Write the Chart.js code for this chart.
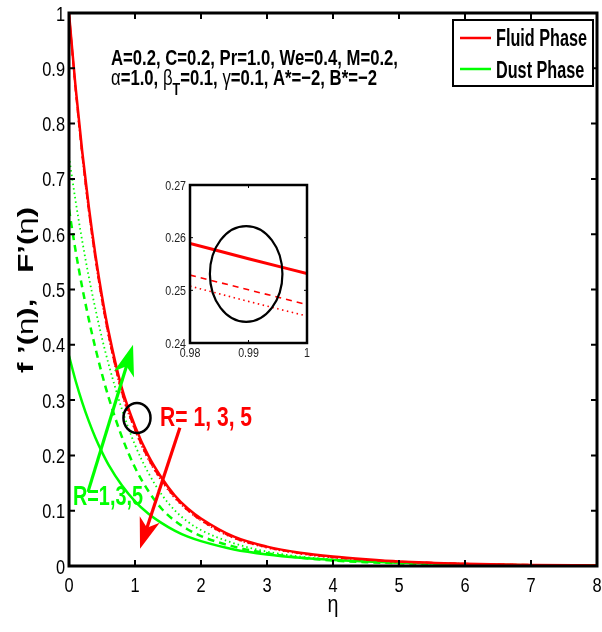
<!DOCTYPE html>
<html>
<head>
<meta charset="utf-8">
<script src="https://cdn.jsdelivr.net/npm/chart.js@4.4.1/dist/chart.umd.min.js"></script>
<style>
html, body { margin: 0; padding: 0; background: #fff; }
#wrap { position: relative; width: 602px; height: 632px; }
#main { position: absolute; left: 0; top: 0; }
#zoom { position: absolute; left: 150px; top: 172px; }
</style>
</head>
<body>
<div id="wrap">
  <canvas id="main" width="602" height="632"></canvas>
  <canvas id="zoom" width="170" height="195"></canvas>
</div>
<script>
// velocity profiles f'(eta) (fluid) and F'(eta) (dust) for R = 1, 3, 5
var eta      = [0, 0.1, 0.2, 0.3, 0.4, 0.5, 0.6, 0.8, 1, 1.2, 1.4, 1.6, 1.8, 2, 2.5, 3, 3.5, 4, 4.5, 5, 6, 7, 8];
var fluidR1  = [1.000, 0.866, 0.750, 0.650, 0.563, 0.488, 0.424, 0.322, 0.253, 0.200, 0.160, 0.128, 0.104, 0.086, 0.053, 0.035, 0.024, 0.017, 0.012, 0.008, 0.004, 0.002, 0.001];
var fluidR3  = [1.000, 0.862, 0.744, 0.643, 0.556, 0.481, 0.417, 0.315, 0.247, 0.195, 0.156, 0.125, 0.101, 0.083, 0.051, 0.034, 0.023, 0.016, 0.011, 0.008, 0.004, 0.002, 0.001];
var fluidR5  = [1.000, 0.860, 0.742, 0.640, 0.553, 0.478, 0.414, 0.312, 0.245, 0.193, 0.154, 0.123, 0.100, 0.082, 0.050, 0.033, 0.022, 0.015, 0.011, 0.007, 0.004, 0.002, 0.001];
var dustR1   = [0.380, 0.335, 0.296, 0.262, 0.232, 0.206, 0.183, 0.146, 0.117, 0.095, 0.078, 0.064, 0.053, 0.045, 0.030, 0.021, 0.015, 0.011, 0.008, 0.006, 0.003, 0.0015, 0.0008];
var dustR3   = [0.645, 0.570, 0.504, 0.446, 0.394, 0.347, 0.305, 0.234, 0.178, 0.136, 0.104, 0.082, 0.066, 0.054, 0.035, 0.023, 0.015, 0.010, 0.007, 0.005, 0.002, 0.001, 0.0005];
var dustR5   = [0.740, 0.660, 0.588, 0.523, 0.465, 0.412, 0.365, 0.284, 0.219, 0.169, 0.130, 0.101, 0.080, 0.065, 0.041, 0.026, 0.017, 0.012, 0.008, 0.006, 0.003, 0.0015, 0.0008];

// zoomed window around eta = 0.99
var zoomEta     = [0.98, 0.99, 1.0];
var zoomFluidR1 = [0.2589, 0.2560, 0.2532];
var zoomFluidR3 = [0.2529, 0.2501, 0.2473];
var zoomFluidR5 = [0.2508, 0.2479, 0.2451];

var etaTicks   = [0, 1, 2, 3, 4, 5, 6, 7, 8];
var velTicks   = [0, 0.1, 0.2, 0.3, 0.4, 0.5, 0.6, 0.7, 0.8, 0.9, 1];
var zoomXTicks = [0.98, 0.99, 1];
var zoomYTicks = [0.24, 0.25, 0.26, 0.27];

var RED = 'rgb(255,0,0)';
var GREEN = 'rgb(0,255,0)';
var SANS = '"Liberation Sans", Arial, sans-serif';
var NARROW_X = 0.82;   // horizontal squeeze to get a narrow face

function pts(xs, ys) {
    return xs.map(function (x, i) { return { x: x, y: ys[i] }; });
}

function line(label, xs, ys, color, dash, width) {
    return {
        label: label, data: pts(xs, ys), borderColor: color, borderWidth: width,
        borderDash: dash, pointRadius: 0, fill: false, cubicInterpolationMode: 'monotone'
    };
}

function fixTicks(list) {
    return function (scale) { scale.ticks = list.map(function (v) { return { value: v }; }); };
}

var B = function (s) { return 'bold ' + s + 'px ' + SANS; };
var N = function (s) { return s + 'px ' + SANS; };

function runsWidth(ctx, runs) {
    var w = 0;
    runs.forEach(function (r) { ctx.font = r[1]; w += ctx.measureText(r[0]).width; });
    return w;
}

// text made of runs with different fonts; (x, y) = left baseline
function drawRuns(ctx, runs, x, y, color, sx, sy) {
    ctx.save();
    ctx.translate(x, y);
    ctx.scale(sx || 1, sy || 1);
    ctx.fillStyle = color;
    ctx.textBaseline = 'alphabetic';
    ctx.textAlign = 'left';
    var cx = 0;
    runs.forEach(function (r) {
        ctx.font = r[1];
        ctx.fillText(r[0], cx, r[2] || 0);
        cx += ctx.measureText(r[0]).width;
    });
    ctx.restore();
}

function drawArrow(ctx, x0, y0, x1, y1, color) {
    var a = Math.atan2(y1 - y0, x1 - x0);
    var dx = Math.cos(a), dy = Math.sin(a);
    var L = 31, W = 10.5;
    ctx.save();
    ctx.strokeStyle = color;
    ctx.fillStyle = color;
    ctx.lineWidth = 3.2;
    ctx.beginPath();
    ctx.moveTo(x0, y0);
    ctx.lineTo(x1 - dx * L * 0.7, y1 - dy * L * 0.7);
    ctx.stroke();
    ctx.beginPath();
    ctx.moveTo(x1, y1);
    ctx.lineTo(x1 - dx * L - dy * W, y1 - dy * L + dx * W);
    ctx.lineTo(x1 - dx * L * 0.72, y1 - dy * L * 0.72);
    ctx.lineTo(x1 - dx * L + dy * W, y1 - dy * L - dx * W);
    ctx.closePath();
    ctx.fill();
    ctx.restore();
}

function drawEllipse(ctx, xs, ys, c, width) {
    var cx = xs.getPixelForValue(c.x), cy = ys.getPixelForValue(c.y);
    var rx = xs.getPixelForValue(c.x + c.rx) - cx;
    var ry = cy - ys.getPixelForValue(c.y + c.ry);
    ctx.save();
    ctx.strokeStyle = '#000';
    ctx.lineWidth = width;
    ctx.beginPath();
    ctx.ellipse(cx, cy, rx, ry, 0, 0, Math.PI * 2);
    ctx.stroke();
    ctx.restore();
}

function drawFrame(ctx, area, xs, ys, xt, yt, tickLen, frameW, tickW) {
    ctx.save();
    ctx.strokeStyle = '#000';
    ctx.lineWidth = tickW;
    ctx.beginPath();
    xt.forEach(function (v) {
        var px = xs.getPixelForValue(v);
        ctx.moveTo(px, area.bottom); ctx.lineTo(px, area.bottom - tickLen);
        ctx.moveTo(px, area.top); ctx.lineTo(px, area.top + tickLen);
    });
    yt.forEach(function (v) {
        var py = ys.getPixelForValue(v);
        ctx.moveTo(area.left, py); ctx.lineTo(area.left + tickLen, py);
        ctx.moveTo(area.right, py); ctx.lineTo(area.right - tickLen, py);
    });
    ctx.stroke();
    ctx.lineWidth = frameW;
    ctx.strokeRect(area.left, area.top, area.right - area.left, area.bottom - area.top);
    ctx.restore();
}

// tick labels drawn with the narrow squeeze
function drawTickLabels(ctx, area, xs, ys, xt, yt, size, fmtX, fmtY, color, gapX, gapY, sy) {
    ctx.save();
    ctx.font = N(size);
    xt.forEach(function (v) {
        var t = fmtX(v);
        var w = ctx.measureText(t).width * NARROW_X;
        drawRuns(ctx, [[t, N(size)]], xs.getPixelForValue(v) - w / 2, area.bottom + gapX, color, NARROW_X, sy);
    });
    yt.forEach(function (v) {
        var t = fmtY(v);
        var w = ctx.measureText(t).width * NARROW_X;
        drawRuns(ctx, [[t, N(size)]], area.left - gapY - w, ys.getPixelForValue(v) + size * 0.36 * sy, color, NARROW_X, sy);
    });
    ctx.restore();
}

// annotation anchors in data units (eta, velocity)
var bigCircle    = { x: 1.03, y: 0.2676, rx: 0.205, ry: 0.027 };
var greenArrow   = { from: [0.288, 0.134], to: [0.97, 0.400] };
var redArrow     = { from: [1.68, 0.250], to: [1.076, 0.031] };
var redLabelAt   = [1.38, 0.253];
var greenLabelAt = [0.06, 0.110];
var zoomCircle   = { x: 0.9896, y: 0.2531, rx: 0.0062, ry: 0.0091 };

var decor = {
    id: 'decor',
    afterDraw: function (chart) {
        var ctx = chart.ctx, a = chart.chartArea;
        var xs = chart.scales.x, ys = chart.scales.y;
        drawFrame(ctx, a, xs, ys, etaTicks.slice(1, -1), velTicks.slice(1, -1), 6, 3, 2);
        drawTickLabels(ctx, a, xs, ys, etaTicks, velTicks, 20,
            function (v) { return String(v); },
            function (v) { return String(+v.toFixed(1)); }, '#000', 26, 4, 1.05);

        // parameter block
        var line1 = [['A=0.2, C=0.2, Pr=1.0, We=0.4, M=0.2,', B(20)]];
        var sxP = 287 / runsWidth(ctx, line1);
        drawRuns(ctx, line1, 111, 65, '#000', sxP, 1.1);
        drawRuns(ctx, [
            ['\u03b1', N(20)], ['=1.0, ', B(20)], ['\u03b2', N(20)], ['T', B(15), 9],
            ['=0.1, ', B(20)], ['\u03b3', N(20)], ['=0.1, A*=\u22122, B*=\u22122', B(20)]
        ], 111, 85, '#000', sxP, 1.1);

        // legend
        ctx.save();
        ctx.fillStyle = '#fff';
        ctx.fillRect(453, 20, 140, 66);
        ctx.strokeStyle = '#000';
        ctx.lineWidth = 2;
        ctx.strokeRect(453, 20, 140, 66);
        ctx.lineWidth = 2.5;
        ctx.strokeStyle = RED;
        ctx.beginPath(); ctx.moveTo(460, 38); ctx.lineTo(491, 38); ctx.stroke();
        ctx.strokeStyle = GREEN;
        ctx.beginPath(); ctx.moveTo(460, 69); ctx.lineTo(491, 69); ctx.stroke();
        ctx.restore();
        var fluidTxt = [['Fluid Phase', B(20)]];
        var sxL = 91 / runsWidth(ctx, fluidTxt);
        drawRuns(ctx, fluidTxt, 496, 46, '#000', sxL, 1.15);
        drawRuns(ctx, [['Dust Phase', B(20)]], 496, 78, '#000', sxL, 1.15);

        // markers for the R trend
        drawEllipse(ctx, xs, ys, bigCircle, 2.5);
        drawArrow(ctx, xs.getPixelForValue(greenArrow.from[0]), ys.getPixelForValue(greenArrow.from[1]),
                  xs.getPixelForValue(greenArrow.to[0]), ys.getPixelForValue(greenArrow.to[1]), GREEN);
        drawArrow(ctx, xs.getPixelForValue(redArrow.from[0]), ys.getPixelForValue(redArrow.from[1]),
                  xs.getPixelForValue(redArrow.to[0]), ys.getPixelForValue(redArrow.to[1]), RED);
        var redTxt = [['R= 1, 3, 5', B(26)]];
        drawRuns(ctx, redTxt, xs.getPixelForValue(redLabelAt[0]), ys.getPixelForValue(redLabelAt[1]), RED,
                 92 / runsWidth(ctx, redTxt), 1.05);
        var greenTxt = [['R=1,3,5', B(26)]];
        drawRuns(ctx, greenTxt, xs.getPixelForValue(greenLabelAt[0]), ys.getPixelForValue(greenLabelAt[1]), GREEN,
                 70 / runsWidth(ctx, greenTxt), 1.05);

        // axis titles
        var etaTxt = [['\u03b7', N(24)]];
        var ew = runsWidth(ctx, etaTxt) * NARROW_X;
        drawRuns(ctx, etaTxt, (a.left + a.right) / 2 - ew / 2, 612, '#000', NARROW_X, 1);

        var yTitle = [
            ['f \u2019(', B(22)], ['\u03b7', N(22)], ['),', B(22)], ['   ', B(22)],
            ['F\u2019(', B(22)], ['\u03b7', N(22)], [')', B(22)]
        ];
        var sxY = 166 / runsWidth(ctx, yTitle);
        ctx.save();
        ctx.translate(33, 290);
        ctx.rotate(-Math.PI / 2);
        drawRuns(ctx, yTitle, -83, 0, '#000', sxY, 1);
        ctx.restore();
    }
};

new Chart(document.getElementById('main'), {
    type: 'line',
    data: {
        datasets: [
            line('Fluid Phase', eta, fluidR1, RED, [], 2.5),
            line('Fluid R=3', eta, fluidR3, RED, [7, 5], 2),
            line('Fluid R=5', eta, fluidR5, RED, [1.5, 3], 1.6),
            line('Dust Phase', eta, dustR1, GREEN, [], 2.5),
            line('Dust R=3', eta, dustR3, GREEN, [7, 5], 2.5),
            line('Dust R=5', eta, dustR5, GREEN, [1.5, 3], 1.8)
        ]
    },
    options: {
        responsive: false,
        animation: false,
        layout: { padding: { left: 0, right: 5, top: 13, bottom: 0 } },
        scales: {
            x: {
                type: 'linear', min: 0, max: 8,
                afterBuildTicks: fixTicks(etaTicks),
                afterFit: function (s) { s.height = 66; },
                grid: { display: false, drawTicks: false },
                border: { display: false },
                ticks: { display: false }
            },
            y: {
                type: 'linear', min: 0, max: 1,
                afterBuildTicks: fixTicks(velTicks),
                afterFit: function (s) { s.width = 69; },
                grid: { display: false, drawTicks: false },
                border: { display: false },
                ticks: { display: false }
            }
        },
        plugins: { legend: { display: false }, tooltip: { enabled: false } }
    },
    plugins: [decor]
});

// zoom window
var zoomDecor = {
    id: 'zoomDecor',
    beforeDatasetsDraw: function (chart) {
        var a = chart.chartArea;
        chart.ctx.save();
        chart.ctx.fillStyle = '#fff';
        chart.ctx.fillRect(a.left, a.top, a.right - a.left, a.bottom - a.top);
        chart.ctx.restore();
    },
    afterDraw: function (chart) {
        var ctx = chart.ctx, a = chart.chartArea;
        var xs = chart.scales.x, ys = chart.scales.y;
        drawFrame(ctx, a, xs, ys, [0.99], [0.25, 0.26], 3, 2.5, 1);
        drawTickLabels(ctx, a, xs, ys, zoomXTicks, zoomYTicks, 13,
            function (v) { return String(+v.toFixed(2)); },
            function (v) { return String(+v.toFixed(2)); }, '#222', 14, 4, 1);
        drawEllipse(ctx, xs, ys, zoomCircle, 2.2);
    }
};

new Chart(document.getElementById('zoom'), {
    type: 'line',
    data: {
        datasets: [
            line('R=1', zoomEta, zoomFluidR1, RED, [], 3),
            line('R=3', zoomEta, zoomFluidR3, RED, [6, 5], 1.6),
            line('R=5', zoomEta, zoomFluidR5, RED, [1.5, 3.5], 1.6)
        ]
    },
    options: {
        responsive: false,
        animation: false,
        layout: { padding: { left: 0, right: 13, top: 13, bottom: 0 } },
        scales: {
            x: {
                type: 'linear', min: 0.98, max: 1,
                afterBuildTicks: fixTicks(zoomXTicks),
                afterFit: function (s) { s.height = 24; },
                grid: { display: false, drawTicks: false },
                border: { display: false },
                ticks: { display: false }
            },
            y: {
                type: 'linear', min: 0.24, max: 0.27,
                afterBuildTicks: fixTicks(zoomYTicks),
                afterFit: function (s) { s.width = 40; },
                grid: { display: false, drawTicks: false },
                border: { display: false },
                ticks: { display: false }
            }
        },
        plugins: { legend: { display: false }, tooltip: { enabled: false } }
    },
    plugins: [zoomDecor]
});
</script>
</body>
</html>
